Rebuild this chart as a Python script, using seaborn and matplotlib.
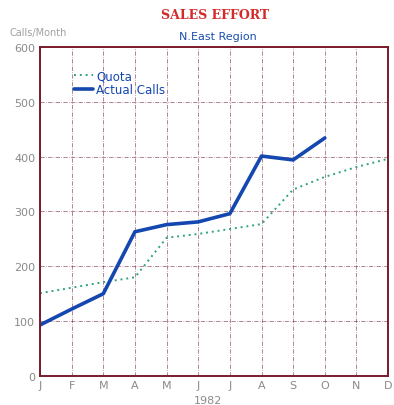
import pandas as pd
import matplotlib.pyplot as plt
import seaborn as sns

# data
months = ["J", "F", "M", "A", "M", "J", "J", "A", "S", "O", "N", "D"]
quota = [151, 161, 171, 180, 252, 259, 268, 277, 340, 363, 381, 396]
actual = [93, 122, 150, 263, 276, 281, 296, 401, 394, 434]

df_q = pd.DataFrame({"m": range(len(quota)), "v": quota})
df_a = pd.DataFrame({"m": range(len(actual)), "v": actual})

sns.set_style("white")
fig = plt.figure(figsize=(3.94, 4.06), dpi=100)
ax = fig.add_axes([0.1015, 0.0714, 0.8835, 0.8106])

sns.lineplot(data=df_q, x="m", y="v", ax=ax, color="#2fa37e", linestyle=(0, (1, 2)),
             linewidth=1.4, label="Quota")
sns.lineplot(data=df_a, x="m", y="v", ax=ax, color="#1447b0", linewidth=2.6,
             label="Actual Calls")

ax.set_xlim(0, 11)
ax.set_ylim(0, 600)
ax.set_xticks(range(12))
ax.set_xticklabels(months)
ax.set_yticks(range(0, 601, 100))
ax.set_xlabel("")
ax.set_ylabel("")
ax.tick_params(axis="both", colors="#8a8a8a", labelsize=8, length=0)
ax.tick_params(axis="x", pad=3)
ax.grid(True, color="#7a2a3a", linestyle=(0, (6, 2, 1, 2)), linewidth=0.5, alpha=0.8)
for s in ax.spines.values():
    s.set_color("#7a1a2a")
    s.set_linewidth(1.4)

leg = ax.legend(loc="upper left", bbox_to_anchor=(0.08, 0.95), frameon=False,
                fontsize=8.5, handlelength=1.6, handletextpad=0.3, borderpad=0,
                labelspacing=0.05)
for t in leg.get_texts():
    t.set_color("#1447b0")

fig.text(0.545, 0.963, "SALES EFFORT", color="#d42a2a", fontsize=9, fontweight="bold",
         family="DejaVu Serif", ha="center", va="center")
fig.text(0.553, 0.909, "N.East Region", color="#1a4fb0", fontsize=8,
         ha="center", va="center")
fig.text(0.025, 0.919, "Calls/Month", color="#a0a0a0", fontsize=7, ha="left", va="center")
fig.text(0.527, 0.012, "1982", color="#8a8a8a", fontsize=8, ha="center", va="center")

fig.savefig("out.png", dpi=100)
